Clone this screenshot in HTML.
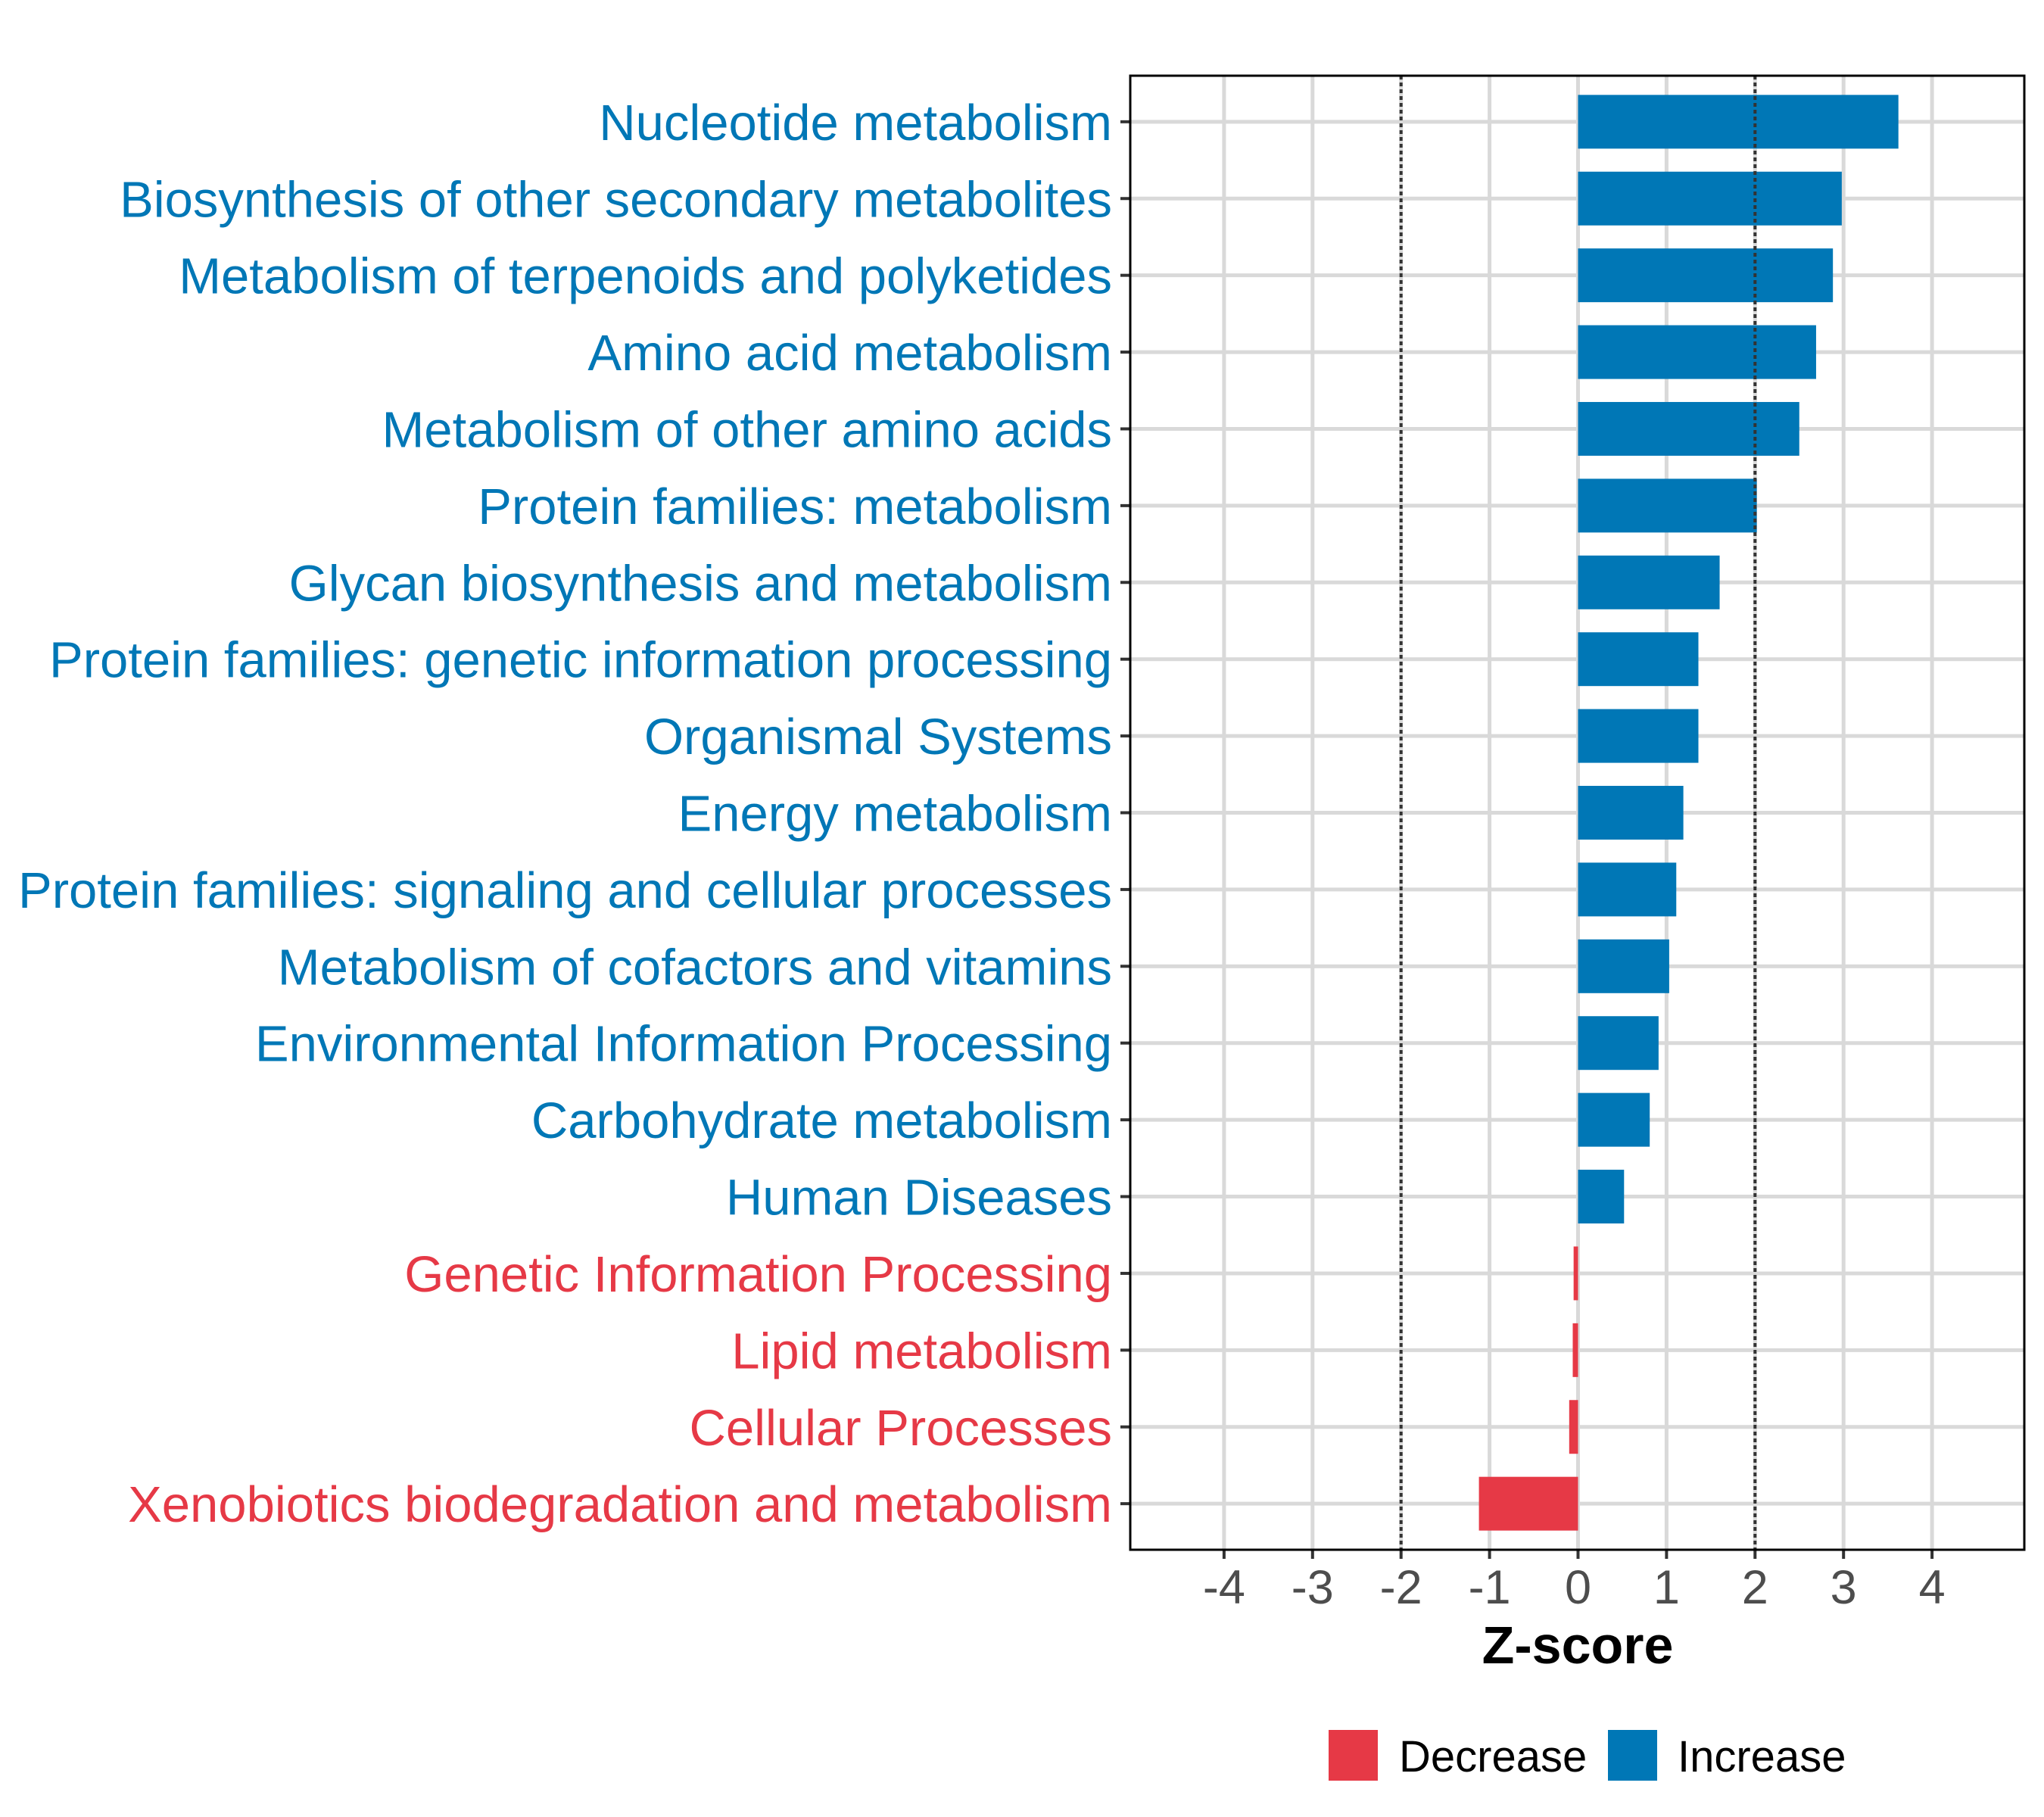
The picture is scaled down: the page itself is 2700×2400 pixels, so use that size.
<!DOCTYPE html>
<html><head><meta charset="utf-8"><style>
html,body{margin:0;padding:0;background:#fff}
svg{display:block;font-family:"Liberation Sans",Arial,sans-serif}
</style></head><body>
<svg id="chart" width="2700" height="2400" viewBox="0 0 2700 2400" xmlns="http://www.w3.org/2000/svg">
<g id="grid"></g>
<g id="bars"></g>
<g id="ylabels"></g>
<g id="xaxis"></g>
<text x="2084" y="2197" font-size="70" font-weight="bold" text-anchor="middle" fill="#000">Z-score</text>
<g>
<rect x="1755" y="2285" width="65" height="67" fill="#E63946"/>
<text x="1848" y="2340" font-size="58" fill="#000">Decrease</text>
<rect x="2124" y="2285" width="65" height="67" fill="#0077B6"/>
<text x="2216" y="2340" font-size="58" fill="#000">Increase</text>
</g>
</svg>
<script>
const categories = ["Nucleotide metabolism","Biosynthesis of other secondary metabolites","Metabolism of terpenoids and polyketides","Amino acid metabolism","Metabolism of other amino acids","Protein families: metabolism","Glycan biosynthesis and metabolism","Protein families: genetic information processing","Organismal Systems","Energy metabolism","Protein families: signaling and cellular processes","Metabolism of cofactors and vitamins","Environmental Information Processing","Carbohydrate metabolism","Human Diseases","Genetic Information Processing","Lipid metabolism","Cellular Processes","Xenobiotics biodegradation and metabolism"];
const zscores = [3.62,2.98,2.88,2.69,2.50,2.02,1.60,1.36,1.36,1.19,1.11,1.03,0.91,0.81,0.52,-0.05,-0.06,-0.10,-1.12];
const xTicks = [-4,-3,-2,-1,0,1,2,3,4];
const thresholds = [-2,2];

const NS="http://www.w3.org/2000/svg";
const PL=1493, PR=2674, PT=100, PB=2047;
const X0=2084.5, UNIT=116.9;
const x = v => X0 + v*UNIT;
const n = categories.length;
const step = (PB-PT)/(n+0.2);
const y = i => PT + (0.6+i)*step;
const BLUE="#0077B6", RED="#E63946";
function mk(tag, attrs, parent){const e=document.createElementNS(NS,tag);for(const k in attrs)e.setAttribute(k,attrs[k]);parent.appendChild(e);return e;}
const grid=document.getElementById('grid'), bars=document.getElementById('bars'), yl=document.getElementById('ylabels'), xa=document.getElementById('xaxis');

xTicks.forEach(t=>{
  const l=mk('line',{x1:x(t),x2:x(t),y1:PT,y2:PB,stroke:'#d9d9d9','stroke-width':5},grid);
  
  
  const tk=mk('line',{x1:x(t),x2:x(t),y1:PB,y2:PB+12,stroke:'#333','stroke-width':4},xa);
  
  
  const tl=mk('text',{x:x(t),y:2118,'font-size':63,'text-anchor':'middle',fill:'#4d4d4d'},xa);
  tl.textContent=String(t);
  
  
});
categories.forEach((c,i)=>{
  const l=mk('line',{x1:PL,x2:PR,y1:y(i),y2:y(i),stroke:'#d9d9d9','stroke-width':5},grid);
  
  
});
categories.forEach((c,i)=>{
  const v=zscores[i], col=v>=0?BLUE:RED, h=step*0.7;
  const r=mk('rect',{x:Math.min(x(0),x(v)),y:y(i)-h/2,width:Math.abs(x(v)-x(0)),height:h,fill:col},bars);
  
  
  const t=mk('text',{x:1469,y:y(i)+24,'font-size':67,'text-anchor':'end',fill:col},yl);
  t.textContent=c;
  
  
  const tk=mk('line',{x1:PL-13,x2:PL,y1:y(i),y2:y(i),stroke:'#333','stroke-width':4},yl);
  
  
});
thresholds.forEach(t=>{
  const l=mk('line',{x1:x(t),x2:x(t),y1:PT,y2:PB,stroke:'#333','stroke-width':4,'stroke-dasharray':'5 4'},bars);
  
  
});
const b=mk('rect',{x:PL,y:PT,width:PR-PL,height:PB-PT,fill:'none',stroke:'#000','stroke-width':3},xa);


</script>
</body></html>
